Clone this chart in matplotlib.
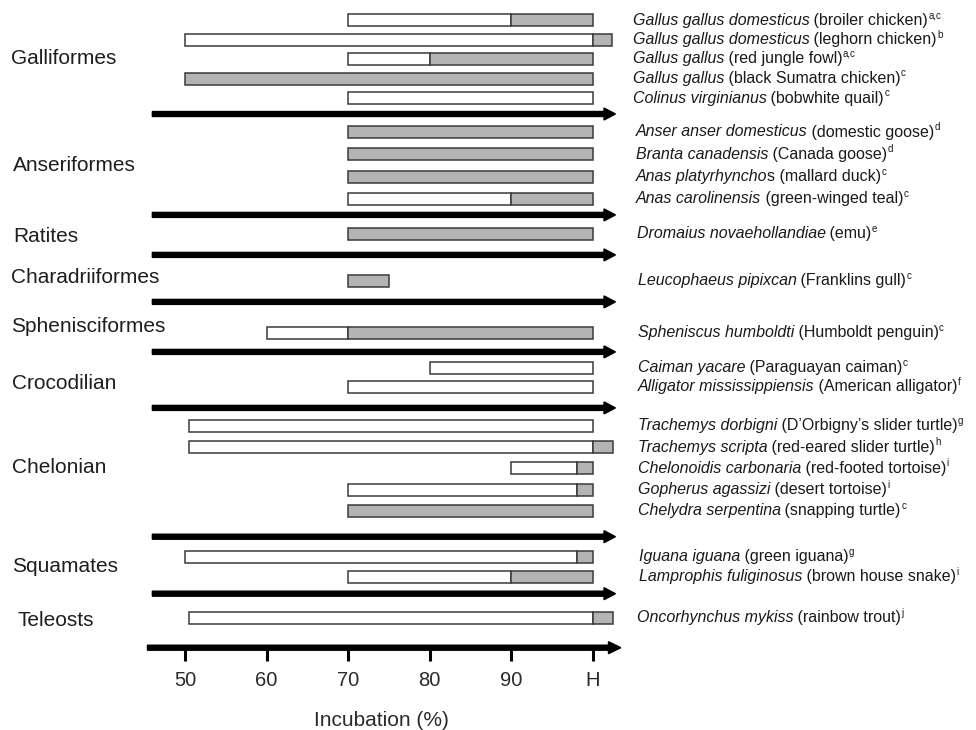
import numpy as np
import matplotlib
matplotlib.use("Agg")
import matplotlib.pyplot as plt

plt.rcParams['font.family'] = ['Liberation Sans', 'DejaVu Sans']

# ---------------- data ----------------
groups = ["Galliformes", "Anseriformes", "Ratites", "Charadriiformes", "Sphenisciformes",
          "Crocodilian", "Chelonian", "Squamates", "Teleosts"]
group_sizes = [5, 4, 1, 1, 1, 2, 5, 2, 1]

species_italic = [
    "Gallus gallus domesticus", "Gallus gallus domesticus", "Gallus gallus", "Gallus gallus",
    "Colinus virginianus",
    "Anser anser domesticus", "Branta canadensis", "Anas platyrhyncho", "Anas carolinensis",
    "Dromaius novaehollandiae",
    "Leucophaeus pipixcan",
    "Spheniscus humboldti",
    "Caiman yacare", "Alligator mississippiensis",
    "Trachemys dorbigni", "Trachemys scripta", "Chelonoidis carbonaria", "Gopherus agassizi",
    "Chelydra serpentina",
    "Iguana iguana", "Lamprophis fuliginosus",
    "Oncorhynchus mykiss",
]
common_names = [
    " (broiler chicken)", " (leghorn chicken)", " (red jungle fowl)", " (black Sumatra chicken)",
    " (bobwhite quail)",
    " (domestic goose)", " (Canada goose)", "s (mallard duck)", " (green-winged teal)",
    " (emu)",
    " (Franklins gull)",
    " (Humboldt penguin)",
    " (Paraguayan caiman)", " (American alligator)",
    " (D\u2019Orbigny\u2019s slider turtle)", " (red-eared slider turtle)",
    " (red-footed tortoise)", " (desert tortoise)", " (snapping turtle)",
    " (green iguana)", " (brown house snake)",
    " (rainbow trout)",
]
references = ["a,c", "b", "a,c", "c", "c", "d", "d", "c", "c", "e", "c", "c", "c", "f",
              "g", "h", "i", "i", "c", "g", "i", "j"]

nan = np.nan
white_start = [70, 50, 70, nan, 70, nan, nan, nan, 70, nan, nan, 60, 80, 70,
               50.5, 50.5, 90, 70, nan, 50, 70, 50.5]
white_end = [90, 100, 80, nan, 100, nan, nan, nan, 90, nan, nan, 70, 100, 100,
             100, 100, 98, 98, nan, 98, 90, 100]
gray_start = [90, 100, 80, 50, nan, 70, 70, 70, 90, 70, 70, 70, nan, nan,
              nan, 100, 98, 98, 70, 98, 90, 100]
gray_end = [100, 102.3, 100, 100, nan, 100, 100, 100, 100, 100, 75, 100, nan, nan,
            nan, 102.5, 100, 100, 100, 100, 100, 102.5]

tick_values = [50, 60, 70, 80, 90, 100]
tick_labels = ["50", "60", "70", "80", "90", "H"]
x_label = "Incubation (%)"

# ---------------- layout (pixel-like vertical units) ----------------
pad_top = [20, 18, 19, 26, 31, 16, 18, 20, 24]
row_step = [19.5, 22.3, 0, 0, 0, 19, 21.2, 20, 0]
pad_bottom = [16, 16, 21, 21, 19, 21, 26, 17, 30]
label_offset = [0, 0, 3, -3, -6, 6.5, -1, 0, 3]
label_px = [11, 13, 13, 11, 11, 12, 12, 12, 17]
species_px = [633, 636, 637, 638, 638, 638, 638, 639, 637]

PX_PER_UNIT = 8.16
X50_PX = 185.0


def px2x(px):
    return 50 + (px - X50_PX) / PX_PER_UNIT


row_y, row_group, sep_y, group_mid = [], [], [], []
y = 0.0
for g, n in enumerate(group_sizes):
    y += pad_top[g]
    ys = [y + i * row_step[g] for i in range(n)]
    row_y += ys
    row_group += [g] * n
    group_mid.append((ys[0] + ys[-1]) / 2)
    y = ys[-1] + pad_bottom[g]
    sep_y.append(y)
axis_y = sep_y[-1]
sep_y = sep_y[:-1]

W, H = 976, 730
fig = plt.figure(figsize=(W / 100, H / 100), dpi=100)
xmin, xmax = 45.0, 104.0
left_px = X50_PX + (xmin - 50) * PX_PER_UNIT
right_px = X50_PX + (xmax - 50) * PX_PER_UNIT
ax = fig.add_axes([left_px / W, (H - axis_y) / H, (right_px - left_px) / W, axis_y / H])
ax.set_xlim(xmin, xmax)
ax.set_ylim(axis_y, 0)
for s in ax.spines.values():
    s.set_visible(False)
ax.set_yticks([])

GRAY = "#b3b4b3"
EDGE = "#3a3a3a"
BAR_H = 12

ry = np.array(row_y)
ws, we = np.array(white_start, float), np.array(white_end, float)
gs, ge = np.array(gray_start, float), np.array(gray_end, float)
mw = ~np.isnan(ws)
mg = ~np.isnan(gs)
ax.barh(ry[mw], we[mw] - ws[mw], left=ws[mw], height=BAR_H, color="white",
        edgecolor=EDGE, linewidth=1.1, clip_on=False, zorder=3)
ax.barh(ry[mg], ge[mg] - gs[mg], left=gs[mg], height=BAR_H, color=GRAY,
        edgecolor=EDGE, linewidth=1.1, clip_on=False, zorder=3)

# separator arrows
for yy in sep_y:
    ax.arrow(46.0, yy, 102.75 - 46.0, 0, width=5, head_width=12, head_length=1.4,
             length_includes_head=True, color="black", clip_on=False, zorder=4)
# axis arrow
ax.arrow(45.4, axis_y, 103.4 - 45.4, 0, width=5, head_width=12, head_length=1.5,
         length_includes_head=True, color="black", clip_on=False, zorder=4)

ax.set_xticks(tick_values, labels=tick_labels)
ax.tick_params(axis="x", length=9.5, width=2.2, direction="out", color="black",
               labelsize=14.5, labelcolor="#2a2a2a", pad=7)
ax.set_xlabel(x_label, fontsize=15, color="#2a2a2a")
ax.xaxis.label.set_va("center")
ax.xaxis.set_label_coords((381 - left_px) / (right_px - left_px), -(720 - axis_y) / axis_y)

# group labels
for g, name in enumerate(groups):
    ax.text(px2x(label_px[g]), group_mid[g] + label_offset[g], name, fontsize=15,
            color="#1e1e1e", ha="left", va="center", clip_on=False)

# species labels
FS = 11.5
for i in range(len(row_y)):
    g = row_group[i]
    t1 = ax.text(px2x(species_px[g]), row_y[i], species_italic[i], fontsize=FS,
                 style="italic", color="#1a1a1a", ha="left", va="center", clip_on=False)
    t2 = ax.annotate(common_names[i], xy=(1, 0), xycoords=t1, xytext=(-0.4, 0),
                     textcoords="offset points", ha="left", va="bottom",
                     fontsize=FS, color="#1a1a1a", annotation_clip=False)
    ax.annotate(references[i], xy=(1, 1), xycoords=t2, xytext=(0.3, 1.8),
                textcoords="offset points", ha="left", va="top", fontsize=FS * 0.62,
                color="#1a1a1a", annotation_clip=False)

fig.savefig("out.png", dpi=100)
